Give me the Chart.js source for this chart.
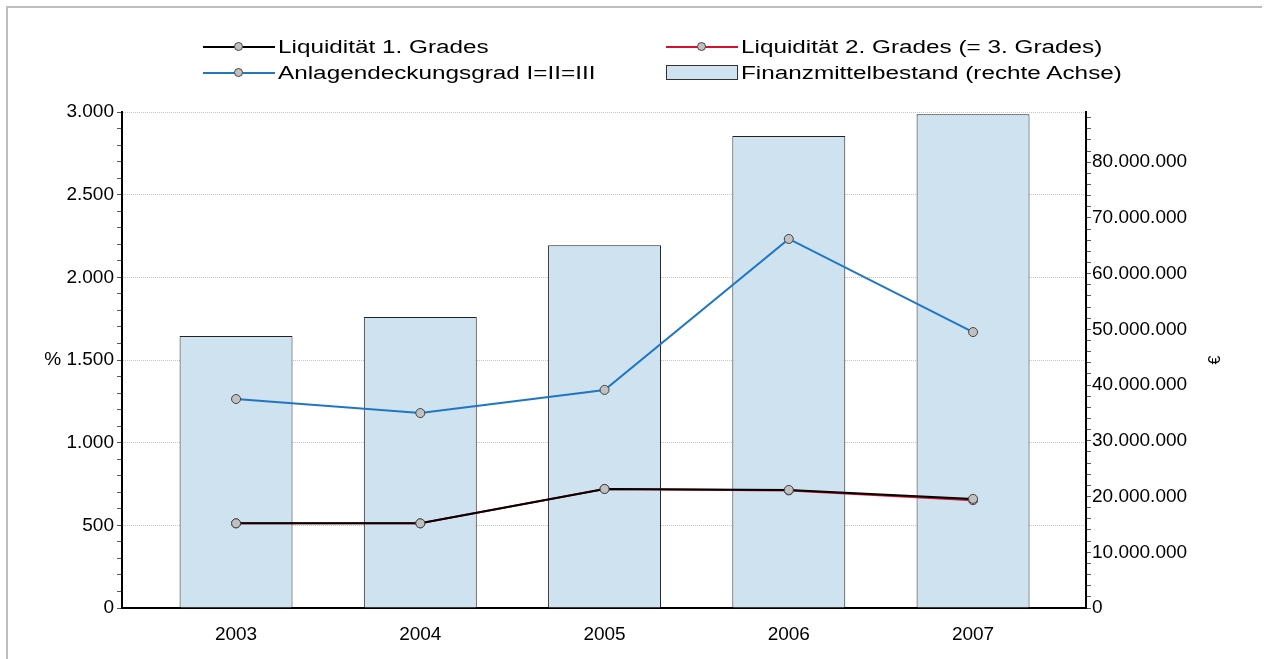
<!DOCTYPE html>
<html>
<head>
<meta charset="utf-8">
<script src="https://cdn.jsdelivr.net/npm/chart.js@4/dist/chart.umd.min.js"></script>
<style>
  body { margin: 0; background: #fff; font-family: 'Liberation Sans', Arial, sans-serif; }
  #wrap { position: relative; width: 1264px; height: 659px; overflow: hidden; }
  #frame { position: absolute; left: 6px; top: 6px; right: 2px; bottom: -4px; border-top: 2px solid #bdbdbd; border-left: 2px solid #bdbdbd; }
  #chart { position: absolute; left: 0; top: 0; }
  .item { position: absolute; height: 22px; display: flex; align-items: center; }
  .mark { position: relative; width: 72px; height: 22px; flex: none; }
  .mark .ln { position: absolute; left: 0; right: 0; top: 10px; height: 2px; }
  .mark .pt { position: absolute; left: 31px; top: 6px; border-radius: 50%; border: 1px solid #444; background: #c0c0c0; box-sizing: border-box; width: 9px; height: 9px; }
  .mark .bx { position: absolute; left: 0; right: 0; top: 3px; height: 15px; border: 1px solid #333; box-sizing: border-box; }
  .txt { display: inline-block; font-size: 18px; color: #000; transform: scaleX(1.35); transform-origin: left center; white-space: nowrap; margin-left: 3px; }
  #unit { position: absolute; left: 1207px; top: 350px; width: 16px; height: 20px; font-size: 16px; line-height: 20px; text-align: center; transform: rotate(-90deg); color: #000; }
</style>
</head>
<body>
<div id="wrap">
  <div id="frame"></div>
  <canvas id="chart" width="1264" height="659"></canvas>
  <div id="legend"></div>
  <div id="unit">€</div>
</div>
<script>
const years = [2003, 2004, 2005, 2006, 2007];
const liq1 = [512, 512, 720, 714, 660];
const liq2 = [512, 512, 720, 711, 652];
const anlagen = [1264, 1179, 1319, 2232, 1669];
const finanz = [48800000, 52200000, 65100000, 84700000, 88600000];
const leftTicks = [0, 500, 1000, 1500, 2000, 2500, 3000];
const rightTicks = [0, 10000000, 20000000, 30000000, 40000000, 50000000, 60000000, 70000000, 80000000];

const fmt = v => String(v).replace(/\B(?=(\d{3})+(?!\d))/g, '.');
const pts = arr => arr.map((v, i) => ({ x: years[i], y: v }));

const lineStyle = {
  type: 'line', yAxisID: 'y', borderWidth: 2, tension: 0,
  pointRadius: 4.5, pointBackgroundColor: '#c0c0c0', pointBorderColor: '#444', pointBorderWidth: 1
};

const datasets = [
  { ...lineStyle, label: 'Liquidität 1. Grades', data: pts(liq1), borderColor: '#000000', order: 0 },
  { ...lineStyle, label: 'Liquidität 2. Grades (= 3. Grades)', data: pts(liq2), borderColor: '#d8102f', order: 1 },
  { ...lineStyle, label: 'Anlagendeckungsgrad I=II=III', data: pts(anlagen), borderColor: '#1f77c4', order: 2 },
  { type: 'bar', label: 'Finanzmittelbestand (rechte Achse)', yAxisID: 'y1', data: pts(finanz),
    backgroundColor: '#cfe2f0', borderColor: '#222', borderWidth: 1,
    barPercentage: 0.613, categoryPercentage: 1, order: 3 }
];

const tickFont = { family: "'Liberation Sans', Arial, sans-serif", size: 19 };

new Chart(document.getElementById('chart'), {
  type: 'bar',
  data: { datasets },
  options: {
    responsive: false,
    animation: false,
    devicePixelRatio: 1,
    layout: { padding: { top: 112, right: 35, bottom: 0, left: 0 } },
    plugins: { legend: { display: false }, tooltip: { enabled: false } },
    scales: {
      x: {
        type: 'linear', min: 2002.381, max: 2007.613, offset: false,
        afterBuildTicks: s => { s.ticks = years.map(v => ({ value: v })); },
        afterFit: s => { s.height = 51; },
        ticks: { callback: v => String(v), font: tickFont, color: '#000', padding: 7, autoSkip: false, maxRotation: 0 },
        grid: { display: false },
        border: { color: '#000', width: 2 }
      },
      y: {
        position: 'left', min: 0, max: 3000,
        afterBuildTicks: s => {
          const t = [];
          for (let v = 0; v <= 3000; v += 100) t.push({ value: v });
          s.ticks = t;
        },
        afterFit: s => { s.width = 122; },
        ticks: {
          autoSkip: false, font: tickFont, color: '#000', padding: 3,
          callback: v => leftTicks.includes(v) ? (v === 1500 ? '% ' : '') + fmt(v) : ''
        },
        grid: {
          color: c => c.tick && leftTicks.includes(c.tick.value) && c.tick.value > 0 ? '#c4c4c4' : 'rgba(0,0,0,0)',
          tickColor: '#555', tickLength: 5, lineWidth: 1
        },
        border: { color: '#000', width: 2, dash: [1, 1] }
      },
      y1: {
        position: 'right', min: 0, max: 89000000,
        afterBuildTicks: s => {
          const t = [];
          for (let v = 0; v <= 88000000; v += 2000000) t.push({ value: v });
          s.ticks = t;
        },
        afterFit: s => { s.width = 143; },
        ticks: {
          autoSkip: false, font: tickFont, color: '#000', padding: 1,
          callback: v => rightTicks.includes(v) ? fmt(v) : ''
        },
        grid: { drawOnChartArea: false, tickColor: '#555', tickLength: 5 },
        border: { color: '#000', width: 2 }
      }
    }
  }
});

// legend in two aligned columns
const legendPos = [
  { x: 203, y: 36 }, { x: 666, y: 36 },
  { x: 203, y: 62 }, { x: 666, y: 62 }
];
const legendEl = document.getElementById('legend');
datasets.forEach((ds, k) => {
  const item = document.createElement('div');
  item.className = 'item';
  item.style.left = legendPos[k].x + 'px';
  item.style.top = legendPos[k].y + 'px';
  const mark = document.createElement('div');
  mark.className = 'mark';
  if (ds.type === 'bar') {
    mark.innerHTML = '<div class="bx" style="background:' + ds.backgroundColor + '"></div>';
  } else {
    mark.innerHTML = '<div class="ln" style="background:' + ds.borderColor + '"></div><div class="pt"></div>';
  }
  const txt = document.createElement('span');
  txt.className = 'txt';
  txt.textContent = ds.label;
  item.appendChild(mark);
  item.appendChild(txt);
  legendEl.appendChild(item);
});
</script>
</body>
</html>
